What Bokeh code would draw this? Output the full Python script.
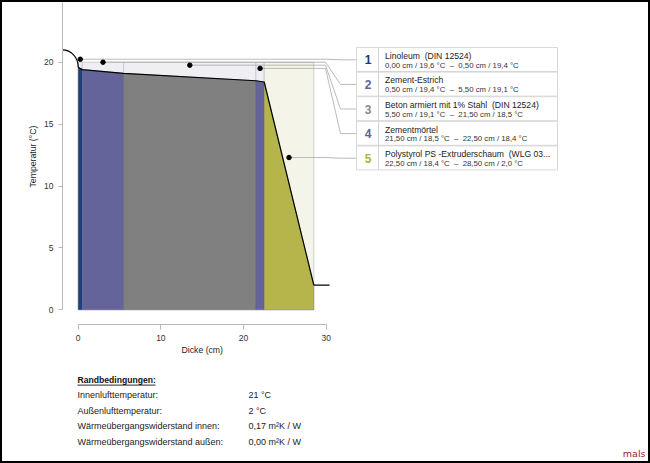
from bokeh.plotting import figure
from bokeh.models import Range1d, FixedTicker, Title
from bokeh.layouts import column
from bokeh.embed import file_html
from bokeh.resources import INLINE
from bokeh.core.properties import value

NB = "\u00a0"  # keeps double spaces visible in SVG text

# ---------------- data ----------------
layer_names = [
    f"Linoleum {NB}(DIN 12524)",
    "Zement-Estrich",
    f"Beton armiert mit 1% Stahl {NB}(DIN 12524)",
    "Zementmörtel",
    f"Polystyrol PS -Extruderschaum {NB}(WLG 03...",
]
layer_thickness = [0.5, 5.0, 16.0, 1.0, 6.0]          # cm
boundary_temps = [19.6, 19.4, 19.1, 18.5, 18.4, 2.0]  # °C at layer boundaries
layer_colors = ["#1d3f7e", "#64649a", "#808080", "#64649a", "#b5b54b"]
number_colors = ["#1d3a6c", "#62629a", "#8a8a8a", "#62629a", "#b0b04a"]
box_fills = ["#eeeef3", "#eeeef3", "#eeeef3", "#eeeef3", "#f4f4e8"]
marker_temps = [20.24, 20.0, 19.76, 19.5, 12.3]       # label anchor heights
inside_air_temp = 21.0
outside_air_temp = 2.0
outside_air_end = 30.4                                 # cm
box_top_temp = 20.0
x_ticks = [0, 10, 20, 30]
y_ticks = [0, 5, 10, 15, 20, 25]
x_title = "Dicke (cm)"
y_title = "Temperatur (°C)"
bc_title = "Randbedingungen:"
bc_labels = ["Innenlufttemperatur:", "Außenlufttemperatur:",
             "Wärmeübergangswiderstand innen:", "Wärmeübergangswiderstand außen:"]
bc_values = ["21 °C", "2 °C", "0,17 m²K / W", "0,00 m²K / W"]

FONT = "Liberation Sans"

# ---------------- layout helpers (page pixel -> data) ----------------
BORDER = 2                  # page border width, px
X0PX, XSC = 77.7, 8.267     # page px of x=0, px per cm
Y0PX, YSC = 309.3, 12.38    # page px of y=0, px per °C
FRAME_L, FRAME_B = 62, 324  # page px of plot frame left / bottom
PAGE_W, PAGE_H = 650, 463
SPLIT = 360                 # page px where the bottom text panel starts
def X(px):
    return (px - X0PX) / XSC
def Y(py):
    return (Y0PX - py) / YSC

x_start, x_end = X(FRAME_L), X(PAGE_W - BORDER)
y_start, y_end = Y(FRAME_B), Y(BORDER)

edges = [0.0]
for t in layer_thickness:
    edges.append(edges[-1] + t)
lefts, rights = edges[:-1], edges[1:]
centers = [(a + b) / 2 for a, b in zip(lefts, rights)]

def de(v, n):
    return f"{v:.{n}f}".replace(".", ",")

subtitles = [
    f"{de(edges[i], 2)} cm / {de(boundary_temps[i], 1)} °C {NB}– {NB}{de(edges[i+1], 2)} cm / {de(boundary_temps[i+1], 1)} °C"
    for i in range(len(layer_names))
]

inner_w = PAGE_W - 2 * BORDER
p_h = SPLIT - BORDER
q_h = PAGE_H - BORDER - SPLIT

# ---------------- main figure ----------------
p = figure(width=inner_w, height=p_h, x_range=Range1d(x_start, x_end),
           y_range=Range1d(y_start, y_end), output_backend="svg",
           toolbar_location=None, title=None,
           min_border_left=FRAME_L - BORDER, min_border_right=0, min_border_top=0,
           min_border_bottom=SPLIT - FRAME_B)
p.outline_line_color = None
p.xgrid.visible = False
p.ygrid.visible = False

for ax, ticks, bnds in ((p.xaxis, x_ticks, (0, 30)), (p.yaxis, y_ticks, (0, 25))):
    ax.ticker = FixedTicker(ticks=ticks)
    ax.bounds = bnds
    ax.axis_line_color = "#b8b8b8"
    ax.major_tick_line_color = "#b8b8b8"
    ax.major_tick_in = 0
    ax.minor_tick_out = 0
    ax.minor_tick_in = 0
    ax.major_label_text_font = FONT
    ax.major_label_text_font_size = "8.5px"
    ax.major_label_text_color = "#333333"
p.xaxis.major_tick_out = 5
p.yaxis.major_tick_out = 4
p.xaxis.major_label_standoff = 5
p.yaxis.major_label_standoff = 5

# axis titles as side titles (positioned by offset)
p.add_layout(Title(text=y_title, align="left", offset=137, standoff=6,
                   vertical_align="middle", text_font=FONT, text_font_size="8.7px",
                   text_font_style="normal", text_color="#222222"), "left")
p.add_layout(Title(text=x_title, align="left", offset=119, standoff=0,
                   vertical_align="middle", text_font=FONT, text_font_size="8.7px",
                   text_font_style="normal", text_color="#222222"), "below")

# light layer boxes
p.quad(left=lefts, right=rights, bottom=[0] * 5, top=[box_top_temp] * 5,
       fill_color=box_fills, line_color="#c4c4cc", line_width=0.8)

# coloured fills under the temperature profile
xs = [[lefts[i], lefts[i], rights[i], rights[i]] for i in range(5)]
ys = [[0, boundary_temps[i], boundary_temps[i + 1], 0] for i in range(5)]
p.patches(xs, ys, fill_color=layer_colors, line_color="#55556a",
          line_alpha=0.45, line_width=0.7)

# temperature profile
p.line(edges, boundary_temps, line_color="black", line_width=1.2)
p.line([edges[-1], outside_air_end], [outside_air_temp, outside_air_temp],
       line_color="black", line_width=1.2)
k = 0.5523
p.bezier(x0=[x_start], y0=[inside_air_temp], x1=[0], y1=[boundary_temps[0]],
         cx0=[x_start + k * (0 - x_start)], cy0=[inside_air_temp],
         cx1=[0], cy1=[boundary_temps[0] + k * (inside_air_temp - boundary_temps[0])],
         line_color="black", line_width=1.2)

# legend rows
row_top0, row_h = 47.0, 24.6
row_tops = [row_top0 + row_h * i for i in range(5)]
row_centers = [t + row_h / 2 for t in row_tops]

# connectors
cx, cy = [], []
for i in range(5):
    cx.append([centers[i], X(325), X(340), X(357)])
    cy.append([marker_temps[i], marker_temps[i], Y(row_centers[i]), Y(row_centers[i])])
p.multi_line(cx, cy, line_color="#a8a8a8", line_width=0.8)
p.scatter(centers, marker_temps, size=4.5, color="black")

p.quad(left=[X(356)] * 5, right=[X(378)] * 5,
       top=[Y(t) for t in row_tops], bottom=[Y(t + row_h - 0.6) for t in row_tops],
       fill_color="white", line_color="#cfcfcf", line_width=0.8)
p.quad(left=[X(378)] * 5, right=[X(557)] * 5,
       top=[Y(t) for t in row_tops], bottom=[Y(t + row_h - 0.6) for t in row_tops],
       fill_color="white", line_color="#cfcfcf", line_width=0.8)

p.text(x=[X(367.5)] * 5, y=[Y(c) for c in row_centers],
       text=[str(i + 1) for i in range(5)], text_color=number_colors,
       text_font=value(FONT), text_font_size="12px", text_font_style="bold",
       text_align="center", text_baseline="middle")
p.text(x=[X(384.5)] * 5, y=[Y(t + 8.3) for t in row_tops], text=layer_names,
       text_color="#222222", text_font=value(FONT), text_font_size="8.6px",
       text_align="left", text_baseline="middle")
p.text(x=[X(384.5)] * 5, y=[Y(t + 17.6) for t in row_tops], text=subtitles,
       text_color="#333333", text_font=value(FONT), text_font_size="7.8px",
       text_align="left", text_baseline="middle")

# ---------------- bottom text figure (page pixel coordinates) ----------------
q = figure(width=inner_w, height=q_h, x_range=Range1d(FRAME_L, PAGE_W - BORDER),
           y_range=Range1d(PAGE_H - BORDER, SPLIT), output_backend="svg",
           toolbar_location=None, title=None, x_axis_type=None, y_axis_type=None,
           min_border_left=FRAME_L - BORDER, min_border_right=0, min_border_top=0,
           min_border_bottom=0)
q.outline_line_color = None
q.grid.visible = False

q.text(x=[77], y=[379.5], text=[bc_title], text_font=value(FONT),
       text_font_size="8.6px", text_font_style="bold", text_color="#111111",
       text_align="left", text_baseline="middle")
q.segment(x0=[77], y0=[384.6], x1=[155], y1=[384.6], line_color="#111111", line_width=0.9)
row_y = [394.5 + 15.6 * i for i in range(4)]
q.text(x=[77] * 4, y=row_y, text=bc_labels, text_font=value(FONT),
       text_font_size="9px", text_color="#222222", text_align="left",
       text_baseline="middle")
q.text(x=[248] * 4, y=row_y, text=bc_values, text_font=value(FONT),
       text_font_size="9px", text_color="#222222", text_align="left",
       text_baseline="middle")
q.text(x=[645], y=[452.5], text=["mals"], text_font=value("DejaVu Sans"),
       text_font_size="9.5px", text_color="#9e1c32", text_align="right",
       text_baseline="middle")

layout = column(p, q, styles={"border": f"{BORDER}px solid #000000"})

open("out.html", "w").write(file_html(layout, INLINE))
